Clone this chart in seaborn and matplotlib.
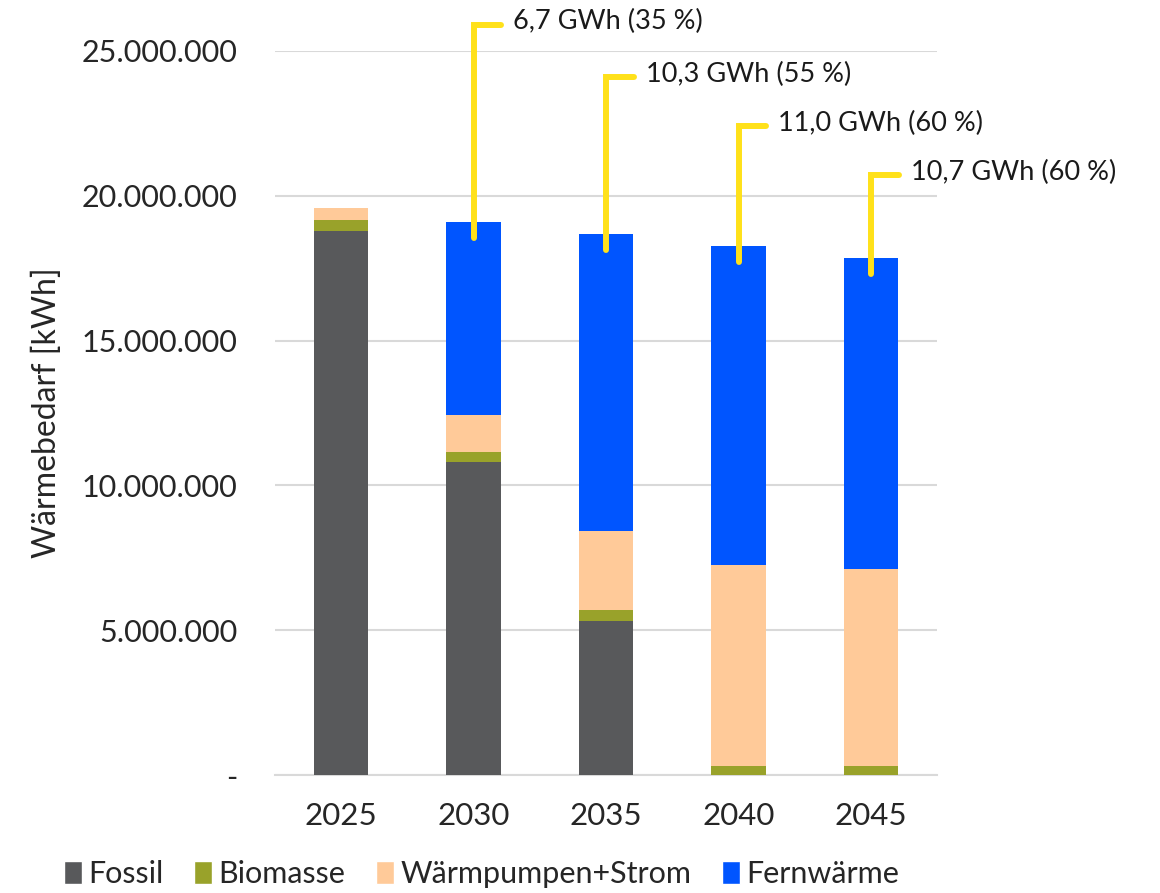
import numpy as np
import pandas as pd
import matplotlib
matplotlib.use("Agg")
import matplotlib.pyplot as plt
import seaborn as sns
from matplotlib.patches import Patch
from matplotlib.ticker import FuncFormatter

# DATA
years      = ["2025", "2030", "2035", "2040", "2045"]
fossil     = [18780000, 10810000, 5320000, 0, 0]
biomasse   = [380000, 340000, 380000, 310000, 310000]
waermepump = [420000, 1280000, 2730000, 6940000, 6800000]
fernwaerme = [0, 6670000, 10250000, 11020000, 10740000]
labels     = ["", "6,7 GWh (35 %)", "10,3 GWh (55 %)", "11,0 GWh (60 %)", "10,7 GWh (60 %)"]
elbow_y    = [0, 25900000, 24100000, 22400000, 20700000]

series = ["Fossil", "Biomasse", "Wärmpumpen+Strom", "Fernwärme"]
colors = ["#58595B", "#99A22A", "#FFCA99", "#0055FF"]
YELLOW = "#FFE11A"
TXT = "#262626"

sns.set_style("white")
plt.rcParams["font.family"] = ["Lato", "DejaVu Sans"]

df = pd.DataFrame({"year": years, "Fossil": fossil, "Biomasse": biomasse,
                   "Wärmpumpen+Strom": waermepump, "Fernwärme": fernwaerme})
cum = df[series].cumsum(axis=1)

fig = plt.figure(figsize=(11.6, 8.93), dpi=100)
ax = fig.add_axes([0.237, 0.132, 0.571, 0.811])

# stacked bars: draw totals first, smaller cumulative sums on top
for name, col in reversed(list(zip(series, colors))):
    sns.barplot(x=df["year"], y=cum[name], color=col, width=0.41,
                saturation=1, ax=ax, linewidth=0, zorder=3)

ax.set_ylim(0, 25000000)
ax.set_xlim(-0.5, 4.5)
ax.set_yticks(np.arange(0, 25000001, 5000000))
ax.yaxis.set_major_formatter(FuncFormatter(
    lambda v, p: "-" if v == 0 else f"{int(v):,}".replace(",", ".")))
ax.grid(axis="y", color="#d9d9d9", linewidth=1.5, zorder=0)
ax.set_axisbelow(True)
for s in ["top", "right", "left"]:
    ax.spines[s].set_visible(False)
ax.spines["bottom"].set_color("#d9d9d9")
ax.spines["bottom"].set_linewidth(1.5)
ax.tick_params(axis="y", length=0, pad=27, labelsize=22, labelcolor=TXT)
ax.tick_params(axis="x", length=0, pad=19, labelsize=22.5, labelcolor=TXT)
ax.set_xlabel("")
ax.set_ylabel("Wärmebedarf [kWh]", fontsize=23, color=TXT, labelpad=14)

# annotations for Fernwärme share
totals = cum["Fernwärme"].values
for i, lab in enumerate(labels):
    if not lab:
        continue
    y0 = totals[i] - 550000
    ax.plot([i, i, i + 0.21], [y0, elbow_y[i], elbow_y[i]], color=YELLOW,
            linewidth=4.3, solid_joinstyle="miter", clip_on=False, zorder=5)
    ax.text(i + 0.30, elbow_y[i] + 100000, lab, fontsize=19.5, color="#1a1a1a",
            va="center", ha="left", clip_on=False)

handles = [Patch(facecolor=c, label=n) for n, c in zip(series, colors)]
fig.legend(handles=handles, loc="lower center", bbox_to_anchor=(0.415, -0.025),
           ncol=4, frameon=False, fontsize=22, handlelength=0.6, handleheight=0.8,
           handletextpad=0.2, columnspacing=1.0)

fig.savefig("out.png", dpi=100)
